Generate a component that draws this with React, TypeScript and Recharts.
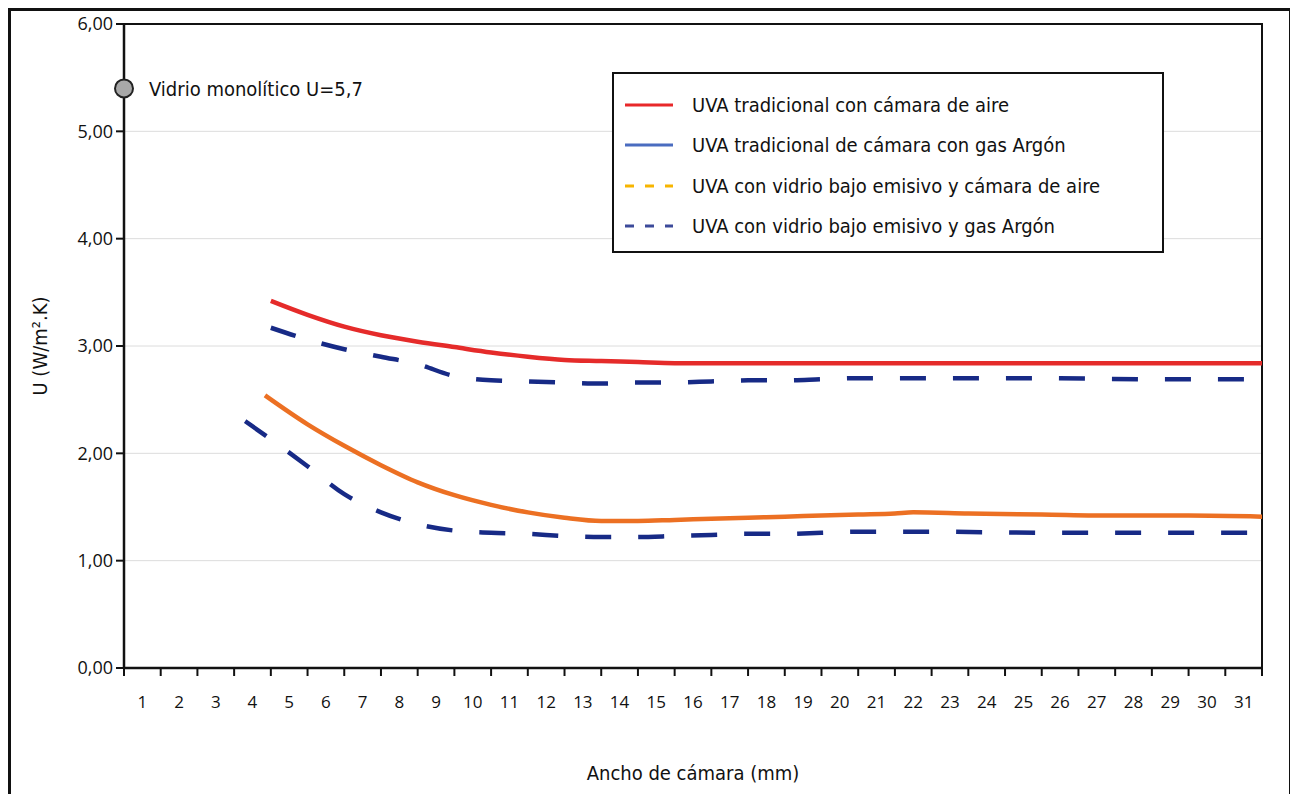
import React from "react"
import {
  ComposedChart,
  Line,
  XAxis,
  YAxis,
  CartesianGrid,
  ReferenceArea,
  ReferenceDot,
} from "recharts"

// Ancho de cámara (mm) vs U (W/m².K)
const xTicks = [0, 1, 2, 3, 4, 5, 6, 7, 8, 9, 10, 11, 12, 13, 14, 15, 16, 17, 18, 19, 20, 21, 22, 23, 24, 25, 26, 27, 28, 29, 30, 31]
const xLabelTicks = xTicks.slice(0, 31).map((t) => t + 0.5)
const yTicks = [0, 1, 2, 3, 4, 5, 6]

const aireX = [4, 5, 6, 7, 8, 9, 10, 11, 12, 13, 14, 15, 17, 19, 21, 23, 25, 27, 29, 31]
const aireY = [3.42, 3.29, 3.18, 3.1, 3.04, 2.99, 2.94, 2.9, 2.87, 2.86, 2.85, 2.84, 2.84, 2.84, 2.84, 2.84, 2.84, 2.84, 2.84, 2.84]

const argonX = [4, 5, 6, 7, 8, 9, 10, 11, 12, 13, 14, 15, 16, 17, 18, 19, 20, 22, 25, 28, 31]
const argonY = [3.17, 3.06, 2.97, 2.9, 2.83, 2.72, 2.68, 2.67, 2.66, 2.65, 2.66, 2.66, 2.67, 2.68, 2.68, 2.69, 2.7, 2.7, 2.7, 2.69, 2.69]

const bajoAireX = [3.84, 5, 6, 7, 8, 9, 10, 11, 12, 13, 14, 15, 16, 17, 18, 19, 20, 21, 21.5, 23, 25, 27, 29, 31]
const bajoAireY = [2.54, 2.27, 2.07, 1.89, 1.73, 1.61, 1.52, 1.45, 1.4, 1.37, 1.37, 1.38, 1.39, 1.4, 1.41, 1.42, 1.43, 1.44, 1.45, 1.44, 1.43, 1.42, 1.42, 1.41]

const bajoArgonX = [3.3, 4, 5, 6, 7, 8, 9, 10, 11, 12, 13, 14, 15, 16, 17, 18, 19, 20, 22, 25, 28, 31]
const bajoArgonY = [2.3, 2.13, 1.88, 1.62, 1.45, 1.34, 1.28, 1.26, 1.25, 1.23, 1.22, 1.22, 1.23, 1.24, 1.25, 1.25, 1.26, 1.27, 1.27, 1.26, 1.26, 1.26]

const monoliticoX = 0
const monoliticoY = 5.4
const monoliticoLabel = "Vidrio monolítico U=5,7"

const legendNames = [
  "UVA tradicional con cámara de aire",
  "UVA tradicional de cámara con gas Argón",
  "UVA con vidrio bajo emisivo y cámara de aire",
  "UVA con vidrio bajo emisivo y gas Argón",
]
const legendColors = ["#e8282a", "#4a6cc0", "#f7b500", "#3c4a9a"]
const legendDashed = [false, false, true, true]

const toPoints = (xs: number[], ys: number[]) => xs.map((x, i) => ({ x, u: ys[i] }))

const TEXT_FONT = '"Liberation Sans Narrow", "DejaVu Sans Condensed", sans-serif'
const TICK_FONT = '"Open Sans", sans-serif'

// tick marks sit on the band edges, labels in the middle of each band
const TICK_AXIS = "a_ticks"
const LABEL_AXIS = "b_labels"

function ChartLegend() {
  return (
    <div
      style={{
        position: "absolute",
        left: 601,
        top: 61,
        width: 552,
        height: 181,
        boxSizing: "border-box",
        border: "2px solid #111",
        background: "#fff",
        paddingTop: 11,
        fontFamily: TEXT_FONT,
        fontSize: 20,
        color: "#111",
      }}
    >
      {legendNames.map((name, i) => (
        <div key={name} style={{ display: "flex", alignItems: "center", height: 40.3 }}>
          <svg width={78} height={10} style={{ flex: "none" }}>
            <line
              x1={11}
              x2={59}
              y1={5}
              y2={5}
              stroke={legendColors[i]}
              strokeWidth={3}
              strokeDasharray={legendDashed[i] ? "9 11" : undefined}
            />
          </svg>
          <span>{name}</span>
        </div>
      ))}
    </div>
  )
}

export default function App() {
  return (
    <div
      style={{
        position: "relative",
        width: 1284,
        height: 800,
        boxSizing: "border-box",
        border: "3px solid #111",
        background: "#fff",
      }}
    >
      <ComposedChart width={1278} height={794} margin={{ top: 13, right: 27, left: 0, bottom: 0 }}>
        <CartesianGrid vertical={false} stroke="#dcdcdc" strokeWidth={1} xAxisId={TICK_AXIS} />
        <XAxis
          xAxisId={TICK_AXIS}
          type="number"
          dataKey="x"
          domain={[0, 31]}
          ticks={xTicks}
          interval={0}
          allowDataOverflow
          height={1}
          tick={{ fontSize: 0 }}
          tickFormatter={() => ""}
          tickSize={8}
          axisLine={{ stroke: "#111", strokeWidth: 2.5 }}
          tickLine={{ stroke: "#111", strokeWidth: 2 }}
        />
        <XAxis
          xAxisId={LABEL_AXIS}
          type="number"
          dataKey="x"
          domain={[0, 31]}
          ticks={xLabelTicks}
          interval={0}
          allowDataOverflow
          height={136}
          axisLine={false}
          tickLine={false}
          tickSize={8}
          tickMargin={19}
          tickFormatter={(v: number) => String(v + 0.5)}
          tick={{ fill: "#111", fontSize: 17, fontFamily: TICK_FONT }}
          label={{
            value: "Ancho de cámara (mm)",
            position: "insideBottom",
            offset: 25,
            fill: "#111",
            fontSize: 20,
            fontFamily: TEXT_FONT,
          }}
        />
        <YAxis
          type="number"
          domain={[0, 6]}
          ticks={yTicks}
          interval={0}
          width={113}
          tickSize={8}
          tickMargin={3}
          tickFormatter={(v: number) => v.toFixed(2).replace(".", ",")}
          tick={{ fill: "#111", fontSize: 18, fontFamily: TICK_FONT }}
          axisLine={{ stroke: "#111", strokeWidth: 2.5 }}
          tickLine={{ stroke: "#111", strokeWidth: 2 }}
          label={({ viewBox }: any) => {
            const cy = viewBox.y + viewBox.height / 2
            return (
              <text
                x={29}
                y={cy}
                transform={`rotate(-90, 29, ${cy})`}
                textAnchor="middle"
                dominantBaseline="central"
                fill="#111"
                fontSize={20}
                fontFamily={TEXT_FONT}
              >
                U (W/m².K)
              </text>
            )
          }}
        />
        <ReferenceArea
          xAxisId={TICK_AXIS}
          x1={0}
          x2={31}
          y1={0}
          y2={6}
          fill="none"
          stroke="#111"
          strokeWidth={2}
          ifOverflow="visible"
        />
        <Line
          xAxisId={TICK_AXIS}
          data={toPoints(aireX, aireY)}
          dataKey="u"
          type="monotone"
          stroke="#e52b2a"
          strokeWidth={4.5}
          dot={false}
          isAnimationActive={false}
        />
        <Line
          xAxisId={LABEL_AXIS}
          data={toPoints(argonX, argonY)}
          dataKey="u"
          type="monotone"
          stroke="#172a86"
          strokeWidth={4.5}
          strokeDasharray="26 27"
          dot={false}
          isAnimationActive={false}
        />
        <Line
          xAxisId={TICK_AXIS}
          data={toPoints(bajoAireX, bajoAireY)}
          dataKey="u"
          type="monotone"
          stroke="#ec7023"
          strokeWidth={4.5}
          dot={false}
          isAnimationActive={false}
        />
        <Line
          xAxisId={LABEL_AXIS}
          data={toPoints(bajoArgonX, bajoArgonY)}
          dataKey="u"
          type="monotone"
          stroke="#172a86"
          strokeWidth={4.5}
          strokeDasharray="26 27"
          dot={false}
          isAnimationActive={false}
        />
        <ReferenceDot
          xAxisId={TICK_AXIS}
          x={monoliticoX}
          y={monoliticoY}
          r={9}
          fill="#a8a8a8"
          stroke="#222"
          strokeWidth={2}
          ifOverflow="visible"
          label={{
            value: monoliticoLabel,
            position: "right",
            offset: 16,
            fill: "#111",
            fontSize: 20,
            fontFamily: TEXT_FONT,
          }}
        />
      </ComposedChart>
      <ChartLegend />
    </div>
  )
}
